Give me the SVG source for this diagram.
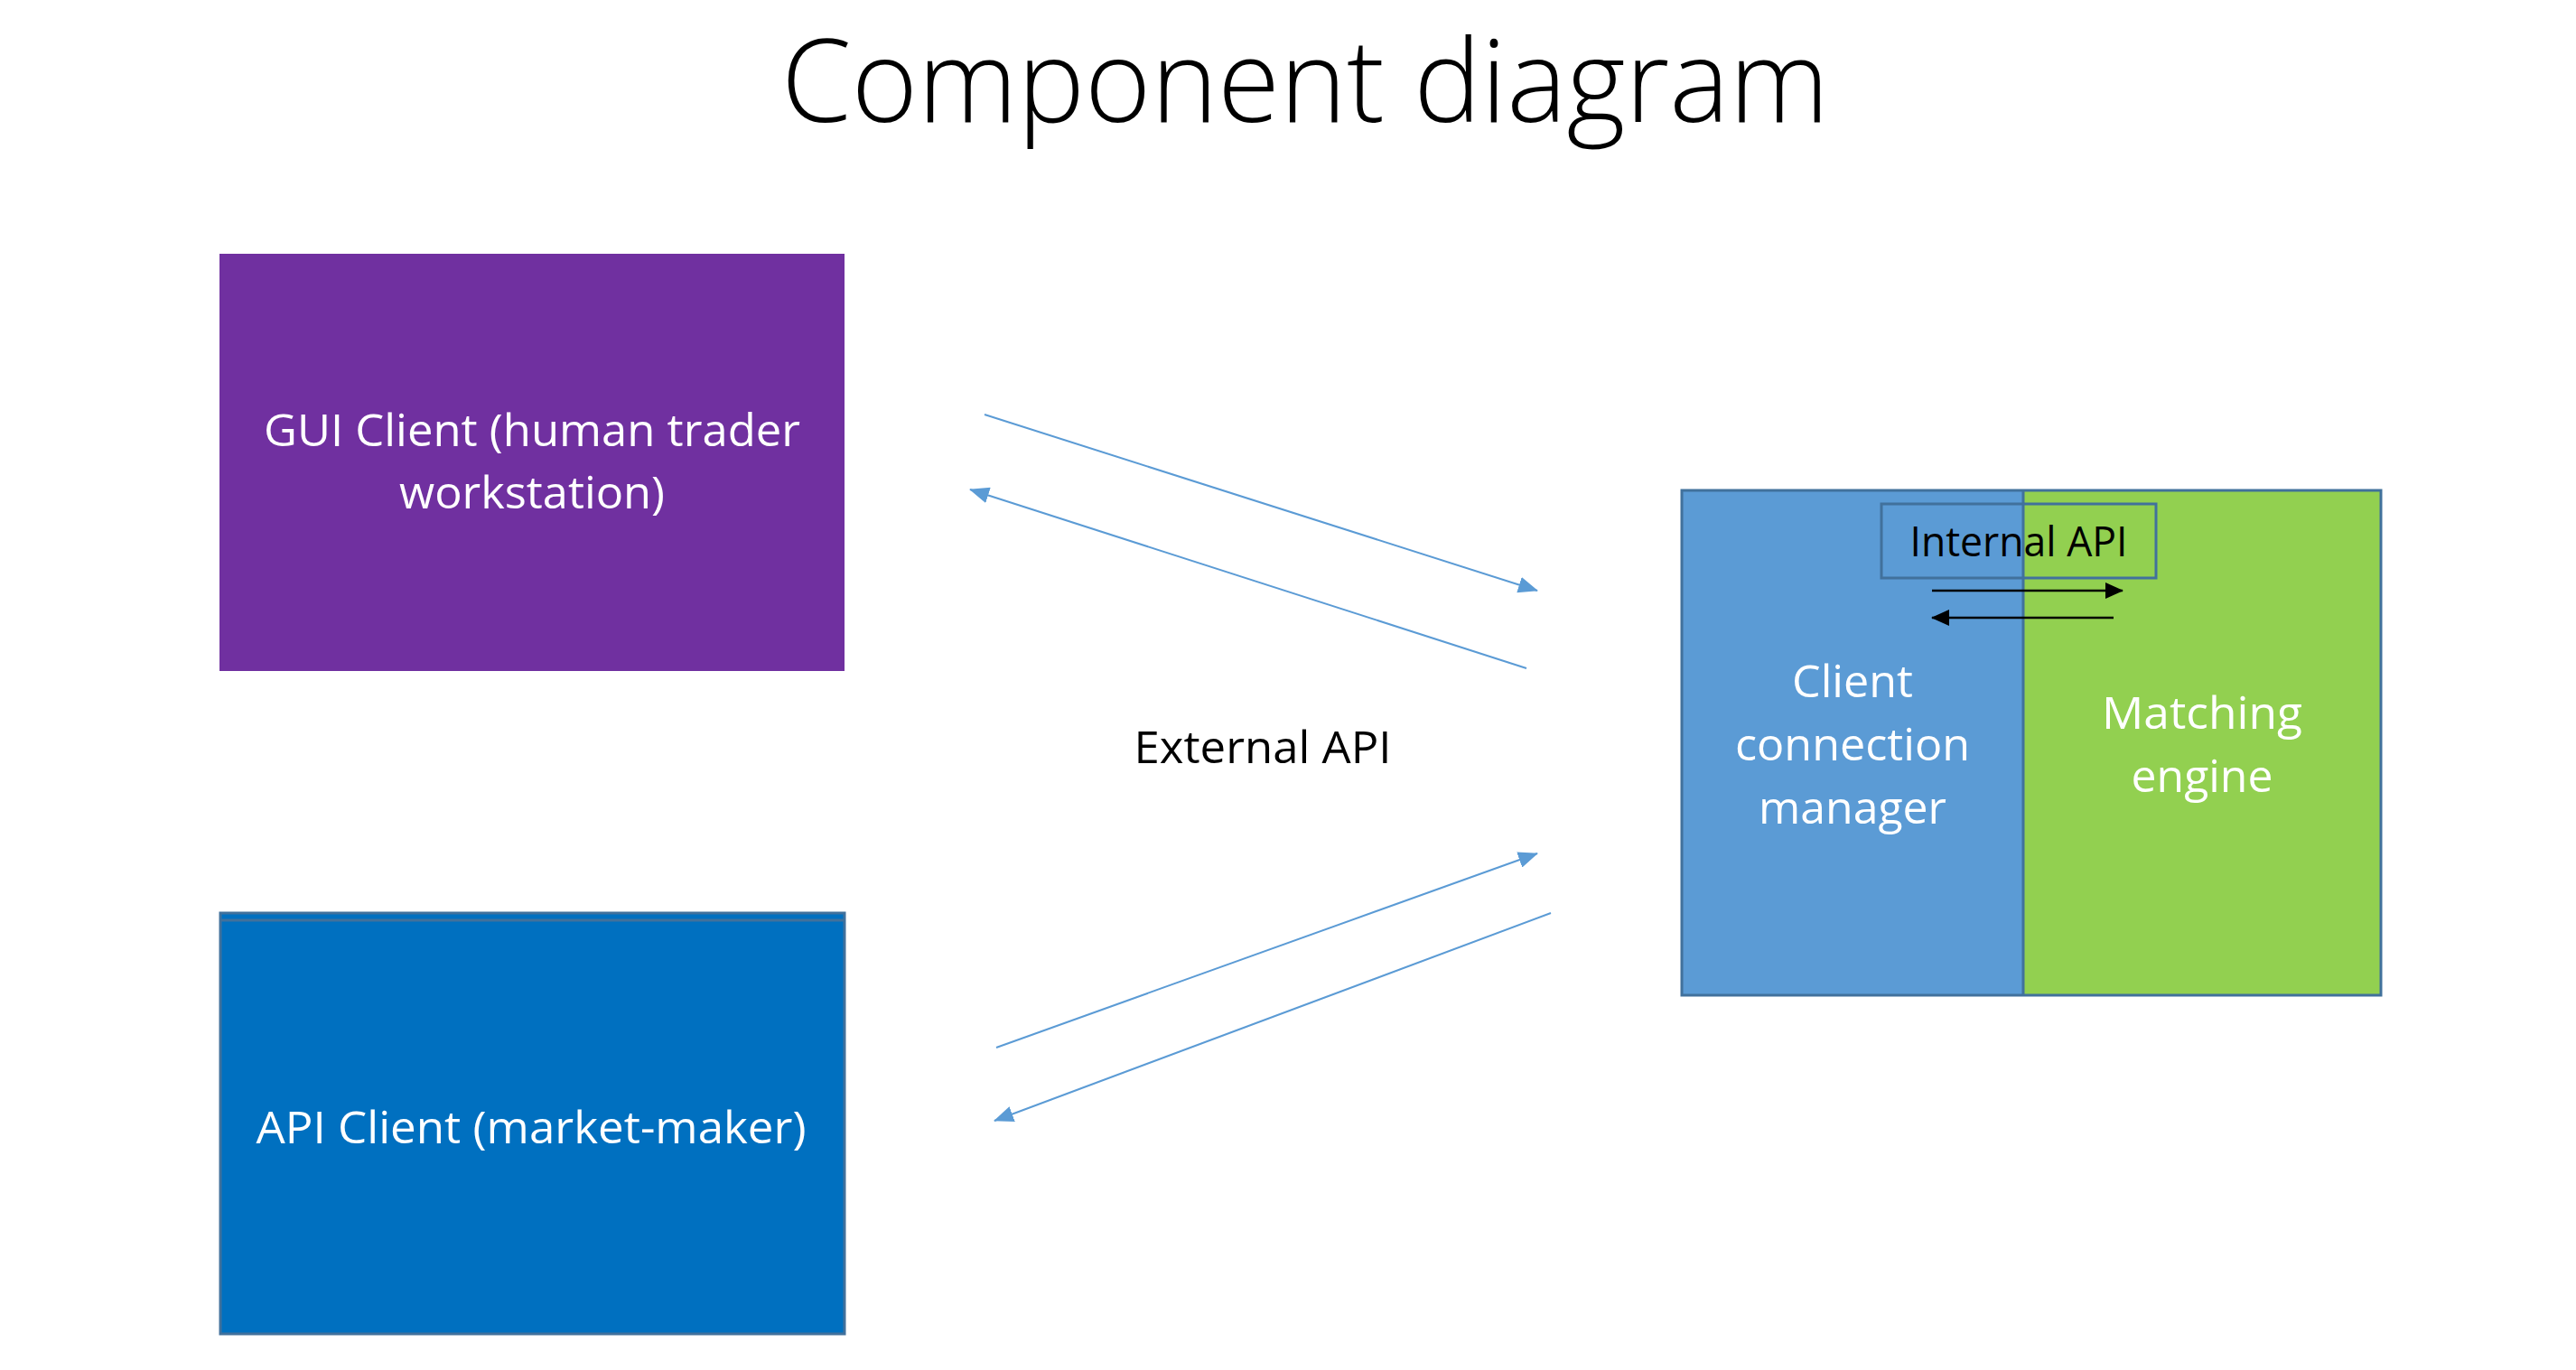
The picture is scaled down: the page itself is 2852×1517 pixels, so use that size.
<svg xmlns="http://www.w3.org/2000/svg" width="2852" height="1517" viewBox="0 0 2852 1517">
<style>
  .t { font-family: "Open Sans", "Liberation Sans", sans-serif; text-anchor: middle; }
  .w { fill: #FFFFFF; font-size: 50px; }
  .k { fill: #000000; }
  .conn { stroke: #5B9BD5; stroke-width: 2; fill: none; marker-end: url(#blueArrow); }
  .iarr { stroke: #000000; stroke-width: 2.5; fill: none; marker-end: url(#blackArrow); }
  .bord { stroke: #41719C; stroke-width: 3; }
</style>
<defs>
  <marker id="blueArrow" markerUnits="userSpaceOnUse" markerWidth="22" markerHeight="18" refX="21" refY="9" orient="auto" viewBox="0 0 22 18">
    <path d="M0,0 L22,9 L0,18 Z" fill="#5B9BD5"/>
  </marker>
  <marker id="blackArrow" markerUnits="userSpaceOnUse" markerWidth="20" markerHeight="18" refX="19" refY="9" orient="auto" viewBox="0 0 20 18">
    <path d="M0,0 L20,9 L0,18 Z" fill="#000000"/>
  </marker>
</defs>
<rect x="0" y="0" width="2852" height="1517" fill="#FFFFFF"/>

<g id="title">
  <text class="t k" x="1445" y="135" font-size="127" font-weight="300" textLength="1160" lengthAdjust="spacingAndGlyphs">Component diagram</text>
</g>

<g id="gui-client">
  <rect x="243" y="281" width="692" height="462" fill="#7030A0"/>
  <text class="t w" x="589" y="494" textLength="594" lengthAdjust="spacingAndGlyphs">GUI Client (human trader</text>
  <text class="t w" x="589" y="563" textLength="294" lengthAdjust="spacingAndGlyphs">workstation)</text>
</g>

<g id="api-client">
  <rect x="244" y="1011" width="691" height="466" fill="#0070C0" class="bord" stroke-width="2.5"/>
  <line x1="244" y1="1019" x2="935" y2="1019" class="bord" stroke-width="2"/>
  <text class="t w" x="588" y="1266" textLength="609" lengthAdjust="spacingAndGlyphs">API Client (market-maker)</text>
</g>

<g id="external-api-label">
  <text class="t k" x="1398" y="845" font-size="50" textLength="285" lengthAdjust="spacingAndGlyphs">External API</text>
</g>

<g id="server">
  <rect x="1862" y="543" width="378" height="559" fill="#5B9BD5"/>
  <rect x="2240" y="543" width="396" height="559" fill="#92D050"/>
  <rect x="1862" y="543" width="774" height="559" fill="none" class="bord"/>
  <line x1="2240" y1="543" x2="2240" y2="1102" class="bord" stroke-width="2.5"/>
</g>

<g id="client-connection-manager">
  <text class="t w" x="2051" y="772" textLength="134" lengthAdjust="spacingAndGlyphs">Client</text>
  <text class="t w" x="2051" y="842" textLength="260" lengthAdjust="spacingAndGlyphs">connection</text>
  <text class="t w" x="2051" y="912" textLength="208" lengthAdjust="spacingAndGlyphs">manager</text>
</g>

<g id="matching-engine">
  <text class="t w" x="2438" y="807" textLength="222" lengthAdjust="spacingAndGlyphs">Matching</text>
  <text class="t w" x="2438" y="877" textLength="157" lengthAdjust="spacingAndGlyphs">engine</text>
</g>

<g id="internal-api">
  <rect x="2083" y="558" width="304" height="82" fill="none" class="bord"/>
  <text class="t k" x="2235" y="616" font-size="46" textLength="241" lengthAdjust="spacingAndGlyphs">Internal API</text>
</g>

<g id="connectors">
  <line class="conn" x1="1090" y1="459" x2="1702" y2="654"/>
  <line class="conn" x1="1690" y1="740" x2="1074" y2="542"/>
  <line class="conn" x1="1103" y1="1160" x2="1702" y2="945"/>
  <line class="conn" x1="1717" y1="1011" x2="1101" y2="1241"/>
  <line class="iarr" x1="2139" y1="654" x2="2350" y2="654"/>
  <line class="iarr" x1="2340" y1="684" x2="2139" y2="684"/>
</g>
</svg>
